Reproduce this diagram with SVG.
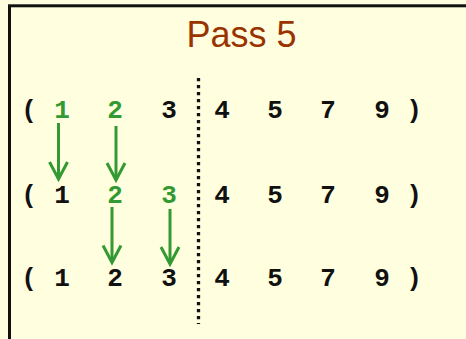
<svg xmlns="http://www.w3.org/2000/svg" width="466" height="339" viewBox="0 0 466 339">
<style>
.t{font-family:"Liberation Mono","DejaVu Sans Mono",monospace;font-weight:700;font-size:26px;text-anchor:middle;fill:#111}
.g{fill:#339933}
.title{font-family:"Liberation Sans",Arial,sans-serif;font-size:36px;text-anchor:middle;fill:#993300}
.arr{stroke:#339933;stroke-width:3;fill:none;marker-end:url(#ah)}
</style>
<defs>
<marker id="ah" markerUnits="userSpaceOnUse" orient="auto" refX="0" refY="0" markerWidth="30" markerHeight="30" overflow="visible">
<path d="M-17,-9 L0,0 L-17,9" fill="none" stroke="#339933" stroke-width="3" stroke-linejoin="miter"/>
</marker>
</defs>
<rect x="0" y="0" width="466" height="339" fill="#ffffe0"/>
<rect x="9.5" y="5.8" width="520" height="400" fill="none" stroke="#111" stroke-width="3"/>
<g id="title"><text class="title" x="241.5" y="46.5">Pass 5</text></g>
<g id="row1">
<text class="t" x="29" y="118">(</text>
<text class="t g" x="62" y="118">1</text>
<text class="t g" x="115" y="118">2</text>
<text class="t" x="169" y="118">3</text>
<text class="t" x="222" y="118">4</text>
<text class="t" x="275" y="118">5</text>
<text class="t" x="328" y="118">7</text>
<text class="t" x="382" y="118">9</text>
<text class="t" x="414" y="118">)</text>
</g>
<g id="row2">
<text class="t" x="29" y="203">(</text>
<text class="t" x="62" y="203">1</text>
<text class="t g" x="115" y="203">2</text>
<text class="t g" x="169" y="203">3</text>
<text class="t" x="222" y="203">4</text>
<text class="t" x="275" y="203">5</text>
<text class="t" x="328" y="203">7</text>
<text class="t" x="382" y="203">9</text>
<text class="t" x="414" y="203">)</text>
</g>
<g id="row3">
<text class="t" x="29" y="286">(</text>
<text class="t" x="62" y="286">1</text>
<text class="t" x="115" y="286">2</text>
<text class="t" x="169" y="286">3</text>
<text class="t" x="222" y="286">4</text>
<text class="t" x="275" y="286">5</text>
<text class="t" x="328" y="286">7</text>
<text class="t" x="382" y="286">9</text>
<text class="t" x="414" y="286">)</text>
</g>
<g id="divider">
<line x1="198.5" y1="78" x2="198.5" y2="324" stroke="#111" stroke-width="3.3" stroke-dasharray="3.3 3.7"/>
</g>
<g id="connectors">
<line class="arr" x1="58.5" y1="123" x2="58.5" y2="179"/>
<line class="arr" x1="116" y1="126" x2="116" y2="180"/>
<line class="arr" x1="112" y1="207" x2="112" y2="262.5"/>
<line class="arr" x1="170" y1="209" x2="170" y2="264"/>
</g>
</svg>
